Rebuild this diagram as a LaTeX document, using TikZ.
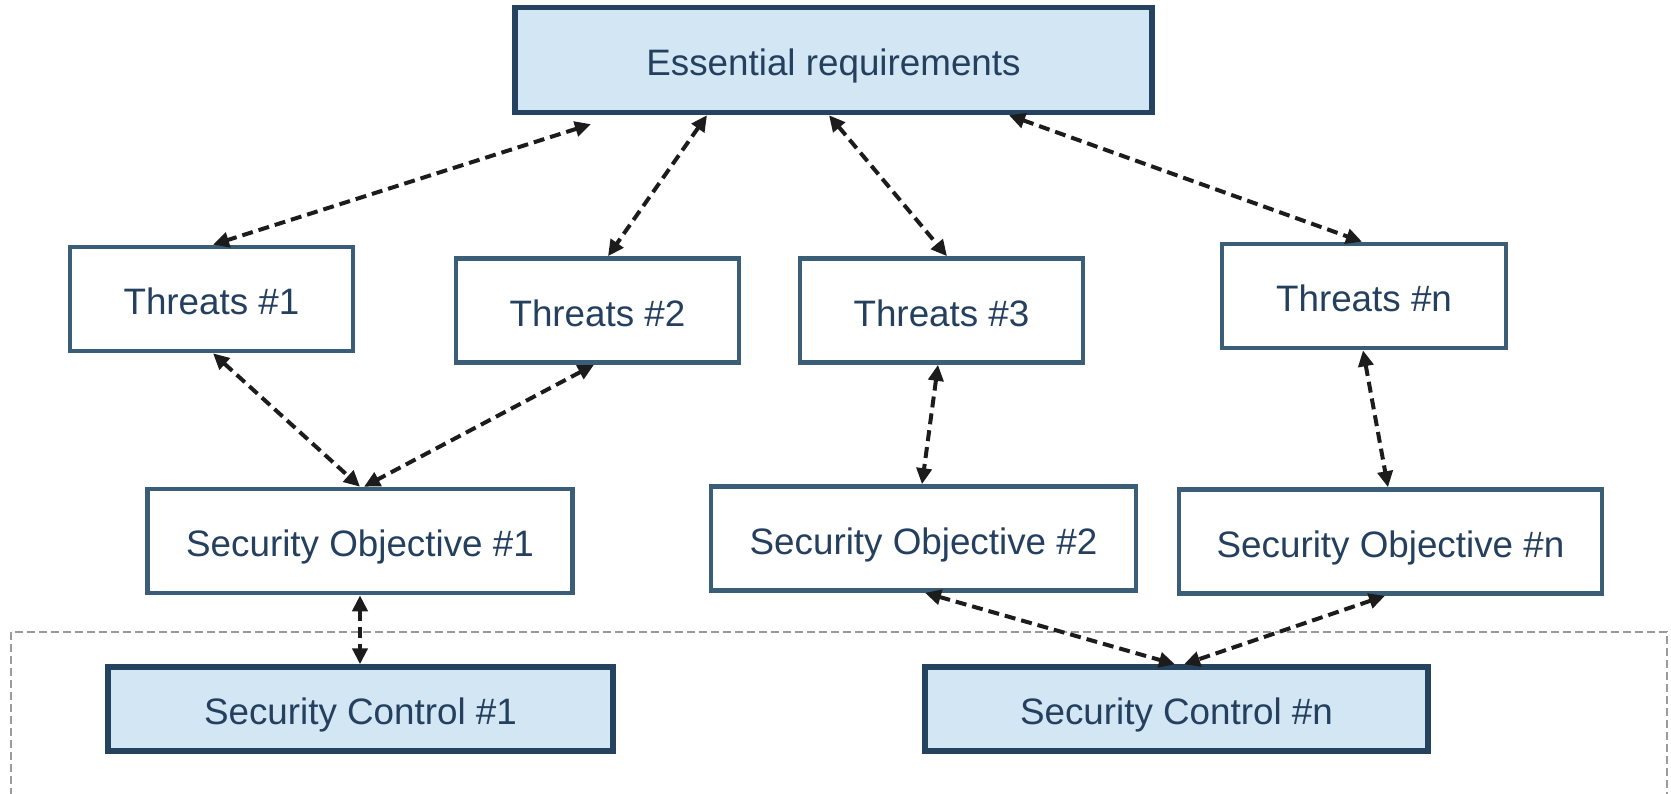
\documentclass[tikz,border=0pt]{standalone}
\usepackage{fontspec}
\setmainfont{Liberation Sans}
\usetikzlibrary{arrows.meta}
\definecolor{txt}{HTML}{24405E}
\definecolor{edgelight}{HTML}{3A5E78}
\definecolor{edgedark}{HTML}{25435F}
\definecolor{fillblue}{HTML}{D2E6F3}
\definecolor{linkcol}{HTML}{1C1C1C}
\definecolor{framegray}{HTML}{9A9A9A}

\begin{document}
\begin{tikzpicture}[x=0.5pt,y=-0.5pt,
  plainbox/.style={draw=edgelight, line width=2.3pt, fill=white, inner sep=0pt,
    text=txt, font=\fontsize{18.4}{22}\selectfont,
    text height=19.7pt, text depth=3.9pt},
  keybox/.style={plainbox, draw=edgedark, line width=2.7pt, fill=fillblue},
  threat/.style={plainbox, minimum width=141.5pt, minimum height=52pt},
  objective/.style={plainbox, minimum width=212.5pt, minimum height=52pt},
  control/.style={keybox, minimum width=252.5pt, minimum height=42pt},
  link/.style={draw=linkcol, line width=2pt, dash pattern=on 5.5pt off 3pt,
    {Triangle[length=8pt,width=7.5pt]}-{Triangle[length=8pt,width=7.5pt]}},
  frame/.style={draw=framegray, line width=0.8pt, dash pattern=on 4pt off 2pt}]

\path[use as bounding box] (0,0) rectangle (1671,793);

% group frame round the security controls (runs past the lower edge)
\begin{scope}
  \clip (0,0) rectangle (1671,793);
  \draw[frame] (11,632) rectangle (1667,830);
\end{scope}

% top level
\node[keybox, minimum width=318.5pt, minimum height=52.5pt] (er) at (833.5,60) {Essential requirements};

% threats
\node[threat] (t1) at (211.5,299) {Threats \#1};
\node[threat] (t2) at (597.5,310.5) {Threats \#2};
\node[threat] (t3) at (941.5,310.5) {Threats \#3};
\node[threat, minimum width=142pt] (tn) at (1364,296) {Threats \#n};

% security objectives
\node[objective] (so1) at (360,541) {Security Objective \#1};
\node[objective] (so2) at (923.5,538.5) {Security Objective \#2};
\node[objective, minimum width=211.5pt] (son) at (1390.5,541.5) {Security Objective \#n};

% security controls
\node[control] (sc1) at (360.5,709) {Security Control \#1};
\node[control, minimum width=251.5pt] (scn) at (1176.5,709) {Security Control \#n};

% requirements <-> threats
\draw[link, shorten <=14.7pt] (er.south -| 619,0) -- (t1.north -| 213,0);
\draw[link] (er.south -| 707,0) -- (t2.north -| 608,0);
\draw[link] (er.south -| 829,0) -- (t3.north -| 947,0);
\draw[link] (er.south -| 1009,0) -- (tn.north -| 1362,0);

% threats <-> objectives
\draw[link] (t1.south -| 213,0) -- (so1.north -| 360,0);
\draw[link] (t2.south -| 594,0) -- (so1.north -| 364,0);
\draw[link] (t3.south -| 938,0) -- (so2.north -| 922,0);
\draw[link] (tn.south -| 1363,0) -- (son.north -| 1388,0);

% objectives <-> controls
\draw[link] (so1.south -| 360,0) -- (sc1.north -| 360,0);
\draw[link] (so2.south -| 925,0) -- (scn.north -| 1175,0);
\draw[link] (son.south -| 1385,0) -- (scn.north -| 1184,0);
\end{tikzpicture}
\end{document}
